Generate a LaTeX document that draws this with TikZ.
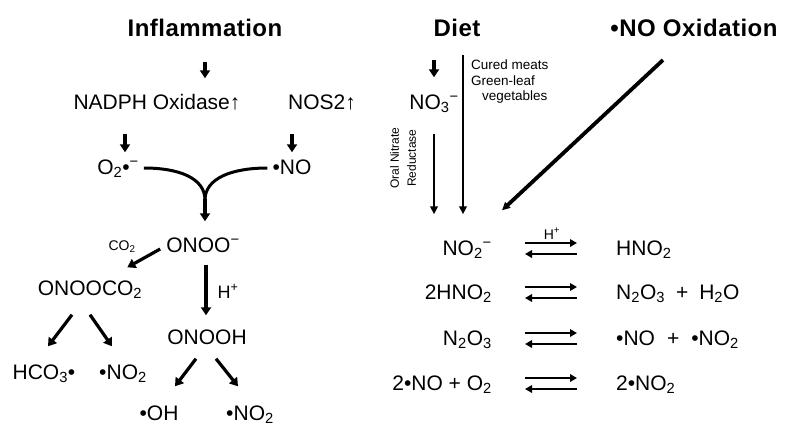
\documentclass[tikz,border=0pt]{standalone}
\usepackage{fontspec}
\setmainfont{Liberation Sans}
\usetikzlibrary{arrows.meta,positioning,calc}
\newcommand{\subsc}[1]{\textsubscript{#1}}
\newcommand{\supsc}[1]{\textsuperscript{#1}}
\tikzset{
  chem/.style={font=\fontsize{21}{25}\selectfont, inner sep=1pt, text height=15.5pt, text depth=3.5pt},
  headline/.style={font=\bfseries\fontsize{24}{28}\selectfont\addfontfeatures{LetterSpace=2}, inner sep=1pt},
  note/.style={font=\fontsize{13.5}{15.5}\selectfont, inner sep=0pt, align=left},
  arr/.style={line width=3.2pt, -{Triangle[length=8pt,width=10pt]}},
  long arr/.style={line width=2.2pt, -{Triangle[length=8pt,width=7.5pt]}},
  eqarr/.style={line width=2.8pt, -{Triangle[length=7pt,width=7.5pt]}},
  curve/.style={line width=3pt},
}
\begin{document}
\begin{tikzpicture}[x=1pt, y=-1pt]
  \useasboundingbox (0,0) rectangle (789,432);
  % headings
  \node[headline] (infl) at (205,28) {Inflammation};
  \node[headline] (diet) at (457,28) {Diet};
  \node[headline] (nox)  at (694,28) {•NO Oxidation};

  % inflammation side
  \node[chem] (nadph) at (157,103) {NADPH Oxidase↑};
  \node[chem] (nos)   at (322,103) {NOS2↑};
  \node[chem] (o2)    at (118,168) {O\subsc{2}•\supsc{−}};
  \node[chem] (no)    at (292,168) {•NO};
  \coordinate (meet) at (205,200);
  \node[chem] (onoo)    at (203,246) {ONOO\supsc{−}};
  \node[chem, font=\fontsize{14}{16}\selectfont] (co2) at (122,244) {CO\subsc{2}};
  \node[chem] (onooco2) at (90,289)  {ONOOCO\subsc{2}};
  \node[chem] (onooh)   at (207,338) {ONOOH};
  \node[chem] (hco3)    at (44,373)  {HCO\subsc{3}•};
  \node[chem] (no2a)    at (123,373) {•NO\subsc{2}};
  \node[chem] (oh)      at (159,414) {•OH};
  \node[chem] (no2b)    at (250,414) {•NO\subsc{2}};

  \draw[arr, shorten <=24pt, shorten >=14pt] (infl.south) -- (infl.south |- nadph.north);
  \draw[arr, shorten <=20pt, shorten >=5pt] ([xshift=7pt]o2.north |- nadph.south) -- ([xshift=7pt]o2.north);
  \draw[arr, shorten <=20pt, shorten >=5pt] (no.north |- nos.south) -- (no.north);
  \draw[curve] ([xshift=4pt]o2.east) .. controls +(35,0) and +(0,-22) .. (meet);
  \draw[curve] ([xshift=-4pt]no.west) .. controls +(-35,0) and +(0,-22) .. (meet);
  \draw[arr, shorten >=14pt] ([yshift=1pt]meet) -- (meet |- onoo.north);
  \draw[arr] ([xshift=-5pt,yshift=-3pt]onoo.west) -- ([xshift=-16pt,yshift=11pt]onooco2.north east);
  \draw[arr, shorten <=8pt, shorten >=12pt] ([xshift=3pt]onoo.south) -- ([xshift=3pt]onoo.south |- onooh.north)
    node[midway, right=9pt, chem, font=\fontsize{18}{20}\selectfont] (hplus) {H\supsc{+}};
  \draw[arr] ([xshift=-18pt,yshift=-15pt]onooco2.south) -- ([xshift=4pt,yshift=16pt]hco3.north);
  \draw[arr] ([yshift=-15pt]onooco2.south) -- ([xshift=-11pt,yshift=16pt]no2a.north);
  \draw[arr] ([xshift=-11pt,yshift=-10pt]onooh.south) -- ([xshift=16pt,yshift=17pt]oh.north);
  \draw[arr] ([xshift=9pt,yshift=-10pt]onooh.south) -- ([xshift=-12pt,yshift=17pt]no2b.north);

  % diet and oxidation side
  \node[chem] (no3) at (434,103) {NO\subsc{3}\supsc{−}};
  \node[note, anchor=north west] (foods) at (471,60) {Cured meats\\Green-leaf\\\hspace*{11pt}vegetables};
  \node[note, font=\fontsize{12}{17}\selectfont, align=center, rotate=90] (reductase) at (403,158) {Oral Nitrate\\Reductase};

  % equilibria
  \node[chem, anchor=east] (nitrite) at (493,249) {NO\subsc{2}\supsc{−}};
  \node[chem, anchor=west] (hno2)    at (615,249) {HNO\subsc{2}};
  \node[chem, anchor=east] (twohno2) at (493,293) {2HNO\subsc{2}};
  \node[chem, anchor=west] (n2o3h2o) at (615,293) {N\subsc{2}O\subsc{3}\hspace{11pt}+\hspace{11pt}H\subsc{2}O};
  \node[chem, anchor=east] (n2o3)    at (493,339) {N\subsc{2}O\subsc{3}};
  \node[chem, anchor=west] (nopair)  at (615,339) {•NO\hspace{12pt}+\hspace{12pt}•NO\subsc{2}};
  \node[chem, anchor=east] (noo2)    at (493,384) {2•NO + O\subsc{2}};
  \node[chem, anchor=west] (twono2)  at (615,384) {2•NO\subsc{2}};
  \node[chem, font=\fontsize{14}{16}\selectfont] (hacid) at (552,233) {H\supsc{+}};

  \draw[arr, shorten <=22pt, shorten >=15pt] (no3.north |- diet.south) -- (no3.north);
  \draw[long arr, shorten >=24pt] ([xshift=6pt,yshift=-17pt]diet.south) -- ([xshift=6pt]diet.south |- nitrite.north);
  \draw[long arr, shorten <=20pt, shorten >=24pt] (no3.south) -- (no3.south |- nitrite.north);
  \draw[long arr, line width=3.8pt] ([xshift=-31pt,yshift=-22pt]nox.south) -- ([xshift=9pt,yshift=28pt]nitrite.north east);

  \foreach \l/\r in {nitrite/hno2, twohno2/n2o3h2o, n2o3/nopair, noo2/twono2}{
    \draw[eqarr] ([xshift=32pt,yshift=6pt]\l.east) -- ([xshift=-38pt,yshift=6pt]\r.west);
    \draw[eqarr] ([xshift=-38pt,yshift=-5pt]\r.west) -- ([xshift=32pt,yshift=-5pt]\l.east);
  }
\end{tikzpicture}
\end{document}
